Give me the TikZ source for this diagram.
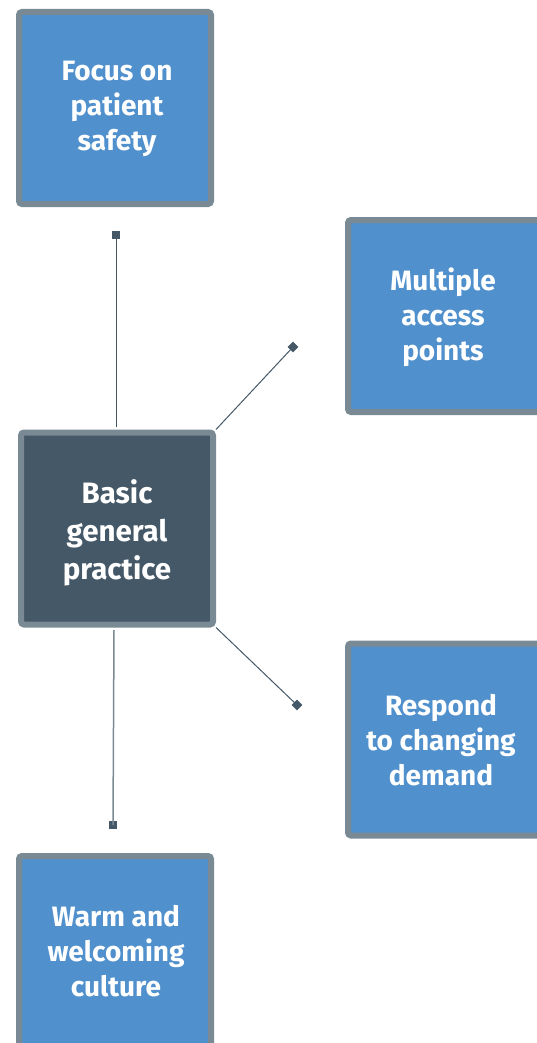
\documentclass[tikz,border=0pt]{standalone}
\usepackage{fontspec}
\setmainfont{Fira Sans}
\usetikzlibrary{shapes.geometric}
\definecolor{boxblue}{HTML}{5090CC}
\definecolor{boxedge}{HTML}{7A8A94}
\definecolor{slate}{HTML}{445867}
\tikzset{
  bluebox/.style={draw=boxedge, fill=boxblue, line width=6pt, rounded corners=3pt,
    minimum width=192pt, minimum height=192pt, inner sep=0pt},
  darkbox/.style={bluebox, fill=slate},
  boxtext/.style={text=white, align=center, inner sep=0pt,
    font=\fontsize{28}{35}\selectfont\bfseries},
  gptext/.style={boxtext, font=\fontsize{29.5}{38}\selectfont\bfseries},
  link/.style={draw=slate, line width=1pt},
  greylink/.style={draw=boxedge, line width=1.5pt},
  sqmark/.style={fill=slate, minimum size=8pt, inner sep=0pt},
  dmmark/.style={diamond, fill=slate, minimum size=11pt, inner sep=0pt}
}
\begin{document}
\begin{tikzpicture}[x=1pt, y=-1pt]
\useasboundingbox (0,0) rectangle (537,1043);
\clip (0,0) rectangle (537,1043);
\node[bluebox] (safety) at (115,108) {};
\node[boxtext] (safetyt) at (117,108.5) {Focus on\\patient\\safety};
\node[bluebox] (access) at (444,316) {};
\node[boxtext] (accesst) at (443,317.5) {Multiple\\access\\points};
\node[bluebox] (demand) at (444,739.5) {};
\node[boxtext] (demandt) at (441,740) {Respond\\to changing\\demand};
\node[bluebox] (culture) at (115,952) {};
\node[boxtext] (culturet) at (116,951) {Warm and\\welcoming\\culture};
\node[darkbox] (gp) at (117,528.5) {};
\node[gptext] (gptx) at (117,533) {Basic\\general\\practice};
\node[sqmark] (m1) at (116,235) {};
\node[dmmark] (m2) at (293,347) {};
\node[dmmark] (m3) at (297,705) {};
\node[sqmark] (m4) at (113,825) {};
\coordinate (gpt) at (116,427);
\coordinate (gpb) at (114,630);
\draw[link] (gpt) -- (m1.center);
\draw[link] (gp.north east) -- (m2.center);
\draw[link] (gp.south east) -- (m3.center);
\draw[greylink] (gpb) -- (m4.center);
\end{tikzpicture}
\end{document}
